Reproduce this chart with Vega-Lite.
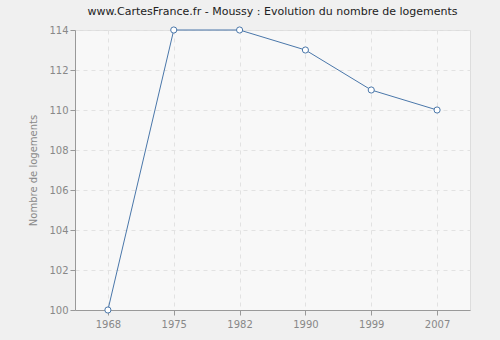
{
  "$schema": "https://vega.github.io/schema/vega-lite/v6.json",
  "width": 395,
  "height": 280,
  "autosize": {"type": "none"},
  "padding": {"left": 75, "top": 30, "right": 30, "bottom": 30},
  "background": "#f0f0f0",
  "title": {
    "text": "www.CartesFrance.fr - Moussy : Evolution du nombre de logements",
    "fontSize": 11,
    "font": "DejaVu Sans",
    "fontWeight": "normal",
    "color": "#222222",
    "anchor": "middle",
    "offset": 8
  },
  "config": {
    "view": {"fill": "#f8f8f8", "stroke": "#dddddd", "strokeWidth": 1},
    "axis": {
      "labelFont": "DejaVu Sans",
      "labelFontSize": 10,
      "labelColor": "#888888",
      "titleFont": "DejaVu Sans",
      "titleFontSize": 10,
      "titleColor": "#888888",
      "titleFontWeight": "normal",
      "domainColor": "#999999",
      "tickColor": "#999999",
      "gridColor": "#e2e2e2",
      "gridDash": [4, 4]
    }
  },
  "data": {
    "values": [
      {"year": "1968", "value": 100},
      {"year": "1975", "value": 114},
      {"year": "1982", "value": 114},
      {"year": "1990", "value": 113},
      {"year": "1999", "value": 111},
      {"year": "2007", "value": 110}
    ]
  },
  "mark": {
    "type": "line",
    "color": "#4a77aa",
    "strokeWidth": 1,
    "point": {"filled": true, "fill": "#ffffff", "stroke": "#4a77aa", "strokeWidth": 1, "size": 38}
  },
  "encoding": {
    "x": {
      "field": "year",
      "type": "ordinal",
      "scale": {"type": "point", "padding": 0.5},
      "axis": {"title": null, "labelAngle": 0, "grid": true, "tickSize": 5, "labelPadding": 4}
    },
    "y": {
      "field": "value",
      "type": "quantitative",
      "scale": {"domain": [100, 114], "zero": false},
      "axis": {"title": "Nombre de logements", "values": [100, 102, 104, 106, 108, 110, 112, 114], "tickSize": 5, "titlePadding": 10, "grid": true}
    }
  }
}
